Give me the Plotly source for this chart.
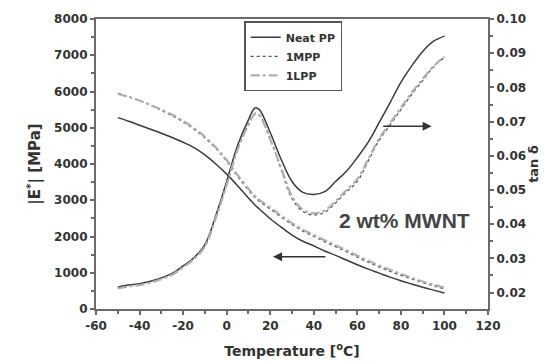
import plotly.graph_objects as go

# Temperature grid (°C)
temp = [-50, -45, -40, -35, -30, -25, -20, -15, -10, -5, 0, 5, 10, 13, 15, 20, 25, 30, 35, 40,
        45, 50, 55, 60, 65, 70, 75, 80, 85, 90, 95, 100]

# |E*| (MPa)
e_neat = [5280, 5180, 5070, 4960, 4850, 4730, 4600, 4450, 4250, 4000, 3720, 3400, 3060, 2870, 2760,
          2490, 2260, 2040, 1870, 1740, 1600, 1480, 1350, 1220, 1100, 990, 880, 780, 690, 600, 520, 440]
e_1mpp = [5950, 5860, 5750, 5620, 5480, 5330, 5160, 4960, 4720, 4430, 4080, 3660, 3280, 3080, 2970,
          2760, 2540, 2330, 2150, 2000, 1860, 1720, 1580, 1430, 1290, 1160, 1040, 930, 830, 730, 640, 560]
e_1lpp = [5930, 5850, 5750, 5630, 5500, 5360, 5190, 4990, 4750, 4460, 4110, 3700, 3320, 3120, 3010,
          2800, 2580, 2370, 2190, 2040, 1900, 1760, 1620, 1470, 1330, 1200, 1080, 970, 860, 760, 670, 590]

# tan delta
t_neat = [0.0216, 0.0222, 0.0226, 0.0233, 0.0243, 0.0256, 0.0278, 0.0302, 0.0340, 0.0425, 0.0525,
          0.0630, 0.0705, 0.0740, 0.0735, 0.0668, 0.0590, 0.0525, 0.0493, 0.0487, 0.0495, 0.0525,
          0.0555, 0.0595, 0.0640, 0.0697, 0.0755, 0.0815, 0.0863, 0.0905, 0.0935, 0.0950]
t_1mpp = [0.0214, 0.0220, 0.0224, 0.0231, 0.0241, 0.0254, 0.0276, 0.0300, 0.0337, 0.0420, 0.0518,
          0.0620, 0.0692, 0.0724, 0.0720, 0.0650, 0.0560, 0.0475, 0.0437, 0.0427, 0.0435, 0.0462,
          0.0495, 0.0525, 0.0585, 0.0645, 0.0690, 0.0735, 0.0780, 0.0820, 0.0860, 0.0888]
t_1lpp = [0.0212, 0.0218, 0.0222, 0.0229, 0.0239, 0.0252, 0.0274, 0.0298, 0.0335, 0.0418, 0.0515,
          0.0617, 0.0690, 0.0722, 0.0718, 0.0648, 0.0565, 0.0482, 0.0442, 0.0432, 0.0440, 0.0467,
          0.0500, 0.0532, 0.0590, 0.0650, 0.0695, 0.0740, 0.0785, 0.0825, 0.0862, 0.0890]

series_names = ["Neat PP", "1MPP", "1LPP"]

x_ticks = [-60, -40, -20, 0, 20, 40, 60, 80, 100, 120]
x_labels = ["-60", "-40", "-20", "0", "20", "40", "60", "80", "100", "120"]
y_ticks = [0, 1000, 2000, 3000, 4000, 5000, 6000, 7000, 8000]
y2_ticks = [0.02, 0.03, 0.04, 0.05, 0.06, 0.07, 0.08, 0.09, 0.10]

font = "Liberation Sans, Arial, sans-serif"
wfont = "DejaVu Sans, Verdana, sans-serif"
axcol = "#6a6a6a"
txtcol = "#333333"

fig = go.Figure()

styles = [
    dict(color="#3a3a3a", width=1.5, dash="solid"),
    dict(color="#555555", width=1.3, dash="dot"),
    dict(color="#b0b0b0", width=2.2, dash="dashdot"),
]
e_series = [e_neat, e_1mpp, e_1lpp]
t_series = [t_neat, t_1mpp, t_1lpp]

for name, ev, st in zip(series_names, e_series, styles):
    fig.add_trace(go.Scatter(x=temp, y=ev, mode="lines", name="<b>" + name + "</b>", line=st,
                             line_shape="spline", showlegend=True, legendgroup=name))
for name, tv, st in zip(series_names, t_series, styles):
    fig.add_trace(go.Scatter(x=temp, y=tv, mode="lines", name=name, line=st, yaxis="y2",
                             line_shape="spline", showlegend=False, legendgroup=name))

tickfont = dict(family=wfont, size=12, color=txtcol)
common = dict(showgrid=False, zeroline=False, showline=True, linecolor=axcol, linewidth=2.2,
              ticks="outside", ticklen=4, tickcolor=axcol, tickwidth=1.5, tickfont=tickfont,
              automargin=False)

# page body has an 8px margin; figure is sized/offset to compensate
fig.update_layout(
    width=541, height=356,
    margin=dict(l=88, r=61, t=11, b=55),
    paper_bgcolor="white", plot_bgcolor="white",
    font=dict(family=font, color=txtcol),
    xaxis=dict(range=[-60, 120], tickvals=x_ticks, ticktext=["<b>%s</b>" % s for s in x_labels],
               mirror=True,
               minor=dict(dtick=10, tick0=-60, ticks="outside", ticklen=3, tickcolor=axcol),
               title=dict(text="<b>Temperature [<sup>o</sup>C]</b>",
                          font=dict(family=wfont, size=14, color=txtcol), standoff=15),
               **common),
    yaxis=dict(range=[0, 8000], tickvals=y_ticks, ticktext=["<b>%d</b>" % v for v in y_ticks],
               minor=dict(dtick=500, ticks="outside", ticklen=3, tickcolor=axcol),
               title=dict(text="<b>|E<sup>*</sup>| [MPa]</b>",
                          font=dict(family=wfont, size=15, color=txtcol), standoff=10),
               **common),
    yaxis2=dict(range=[0.0152, 0.10], tickvals=y2_ticks, ticktext=["<b>%.2f</b>" % v for v in y2_ticks],
                overlaying="y", side="right",
                minor=dict(dtick=0.005, tick0=0.02, ticks="outside", ticklen=3, tickcolor=axcol),
                title=dict(text="<b>tan δ</b>", font=dict(family=wfont, size=13, color=txtcol), standoff=2),
                **common),
    legend=dict(x=0.378, y=0.992, xanchor="left", yanchor="top",
                bgcolor="white", bordercolor="#555555", borderwidth=1.5,
                font=dict(family=wfont, size=11, color=txtcol),
                tracegroupgap=0, itemwidth=30),
    showlegend=True,
)

fig.add_annotation(x=81.5, y=2440, xref="x", yref="y", text="<b>2 wt% MWNT</b>", showarrow=False,
                   font=dict(family=font, size=21, color="#444444"))
# left arrow (E* curves)
fig.add_annotation(x=21.3, y=1443, ax=46, ay=1443, xref="x", yref="y", axref="x", ayref="y",
                   text="", showarrow=True, arrowhead=2, arrowsize=1.2, arrowwidth=1.5, arrowcolor="#333333")
# right arrow (tan delta curves)
fig.add_annotation(x=94.1, y=5040, ax=71.2, ay=5040, xref="x", yref="y", axref="x", ayref="y",
                   text="", showarrow=True, arrowhead=2, arrowsize=1.2, arrowwidth=1.5, arrowcolor="#333333")

fig.write_html("out.html")
